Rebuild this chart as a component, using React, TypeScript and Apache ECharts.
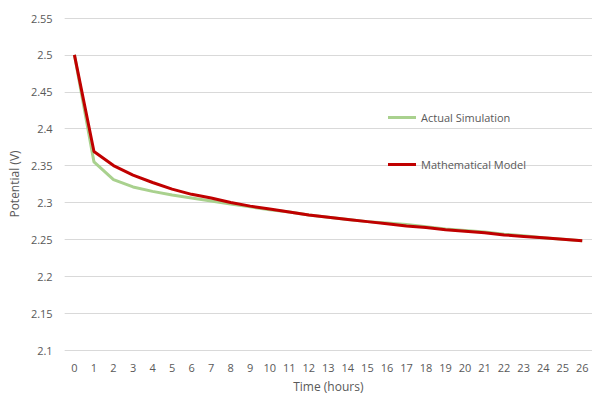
import React, { useEffect, useRef } from "react";
import * as echarts from "echarts";

const hours = ["0","1","2","3","4","5","6","7","8","9","10","11","12","13","14","15","16","17","18","19","20","21","22","23","24","25","26"];
const actualSimulation = [2.5, 2.355, 2.331, 2.321, 2.315, 2.310, 2.306, 2.302, 2.298, 2.294, 2.290, 2.287, 2.283, 2.280, 2.277, 2.274, 2.272, 2.270, 2.267, 2.264, 2.262, 2.260, 2.257, 2.255, 2.252, 2.250, 2.248];
const mathematicalModel = [2.5, 2.369, 2.350, 2.337, 2.327, 2.318, 2.311, 2.306, 2.300, 2.295, 2.291, 2.287, 2.283, 2.280, 2.277, 2.274, 2.271, 2.268, 2.266, 2.263, 2.261, 2.259, 2.256, 2.254, 2.252, 2.250, 2.248];

const FONT = "'Open Sans', 'Liberation Sans', sans-serif";
const GREY = "#595959";
const LINE_ICON = "path://M0,0 L28,0 L28,3 L0,3 Z";

export default function App() {
  const ref = useRef<HTMLDivElement>(null);
  useEffect(() => {
    if (!ref.current) return;
    const chart = echarts.init(ref.current, undefined, { renderer: "svg" });
    chart.setOption({
      animation: false,
      textStyle: { fontFamily: FONT },
      grid: { left: 60, right: 0, top: 18, bottom: 41.5, containLabel: false },
      legend: {
        orient: "vertical",
        left: 383,
        top: 107,
        padding: 5,
        itemGap: 36,
        itemWidth: 28,
        itemHeight: 14,
        icon: LINE_ICON,
        textStyle: { color: GREY, fontSize: 11, fontFamily: FONT },
        data: [
          { name: "Actual Simulation", icon: LINE_ICON },
          { name: "Mathematical Model", icon: LINE_ICON },
        ],
      },
      xAxis: {
        type: "category",
        data: hours,
        boundaryGap: true,
        axisLine: { show: false },
        axisTick: { show: false },
        axisLabel: { color: GREY, fontSize: 11, margin: 12, interval: 0 },
        name: "Time (hours)",
        nameLocation: "middle",
        nameGap: 30,
        nameTextStyle: { color: GREY, fontSize: 12 },
      },
      yAxis: {
        type: "value",
        min: 2.1,
        max: 2.55,
        interval: 0.05,
        axisLine: { show: false },
        axisTick: { show: false },
        axisLabel: {
          color: GREY,
          fontSize: 11,
          margin: 12,
          formatter: (v: number) => String(+v.toFixed(2)),
        },
        splitLine: { lineStyle: { color: "#D9D9D9", width: 1 } },
        name: "Potential (V)",
        nameLocation: "middle",
        nameGap: 37,
        nameRotate: 90,
        nameTextStyle: { color: GREY, fontSize: 12 },
      },
      series: [
        {
          name: "Actual Simulation",
          type: "line",
          data: actualSimulation,
          symbol: "none",
          lineStyle: { color: "#A9D18E", width: 3 },
          itemStyle: { color: "#A9D18E" },
          z: 2,
        },
        {
          name: "Mathematical Model",
          type: "line",
          data: mathematicalModel,
          symbol: "none",
          lineStyle: { color: "#C00000", width: 3 },
          itemStyle: { color: "#C00000" },
          z: 3,
        },
      ],
    });
    return () => chart.dispose();
  }, []);
  return <div ref={ref} style={{ width: 592, height: 397, position: "absolute", left: 0, top: 0 }} />;
}
